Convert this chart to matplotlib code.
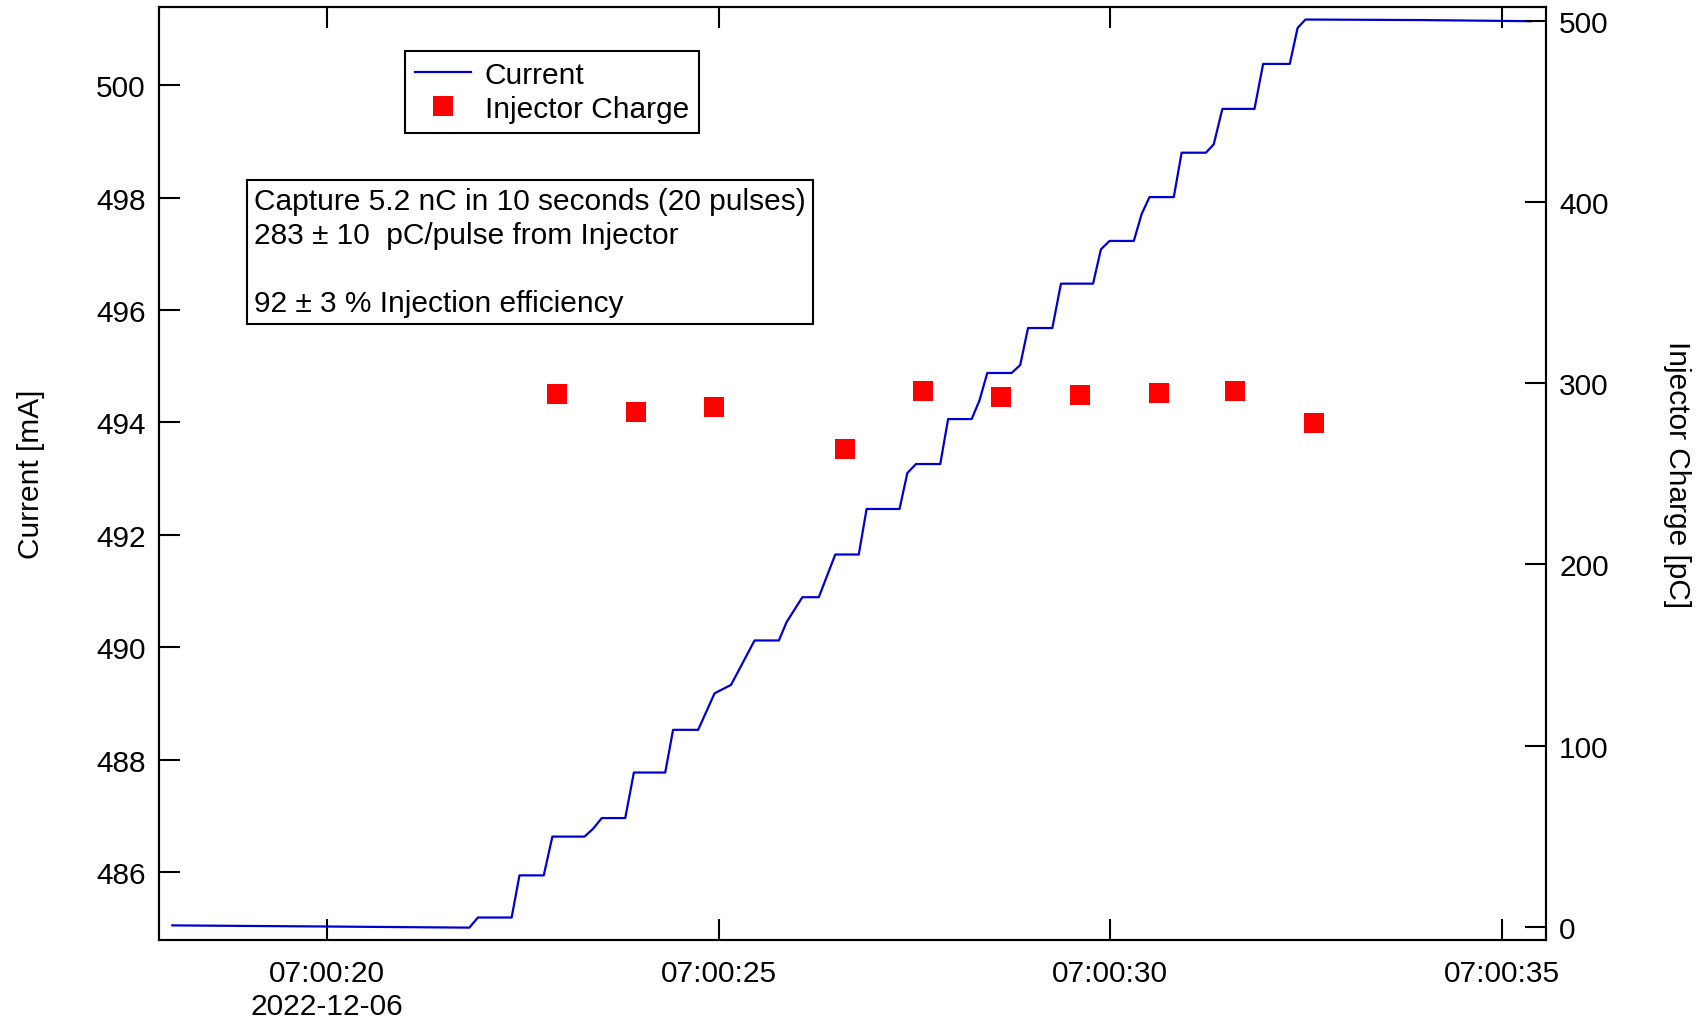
import numpy as np
import matplotlib
matplotlib.use("Agg")
import matplotlib.pyplot as plt
import matplotlib.dates as mdates
from matplotlib.ticker import FuncFormatter, MultipleLocator

plt.rcParams["font.family"] = ["Liberation Sans", "DejaVu Sans"]
plt.rcParams["font.size"] = 21.5

T0 = np.datetime64("2022-12-06T07:00:00")

# stored beam current, time in seconds after 07:00:00
current_t = [18.03, 20.0, 21.82, 21.93, 22.36, 22.46, 22.77, 22.88, 23.29, 23.40,
             23.51, 23.81, 23.92, 24.32, 24.42, 24.74, 24.95, 25.16, 25.46, 25.77,
             25.87, 26.07, 26.28, 26.49, 26.79, 26.89, 27.31, 27.41, 27.52, 27.83,
             27.93, 28.23, 28.33, 28.43, 28.74, 28.85, 28.95, 29.26, 29.37, 29.78,
             29.88, 29.99, 30.30, 30.40, 30.50, 30.81, 30.91, 31.22, 31.32, 31.43,
             31.84, 31.95, 32.29, 32.39, 32.49, 34.0, 35.37]
current_ma = [485.05, 485.03, 485.01, 485.19, 485.19, 485.94, 485.94, 486.63, 486.63, 486.77,
              486.96, 486.96, 487.77, 487.77, 488.53, 488.53, 489.18, 489.33, 490.12, 490.12,
              490.45, 490.89, 490.89, 491.65, 491.65, 492.46, 492.46, 493.10, 493.26, 493.26,
              494.06, 494.06, 494.39, 494.88, 494.88, 495.02, 495.68, 495.68, 496.47, 496.47,
              497.08, 497.23, 497.23, 497.71, 498.01, 498.01, 498.80, 498.80, 498.95, 499.58,
              499.58, 500.38, 500.38, 501.02, 501.17, 501.16, 501.14]

# injector charge per shot
charge_t = [22.94, 23.95, 24.94, 26.61, 27.61, 28.61, 29.61, 30.62, 31.59, 32.60]
charge_pc = [294.1, 284.2, 286.7, 263.5, 295.9, 292.6, 293.7, 294.6, 295.7, 278.0]

x_range = (17.86, 35.56)
current_range = (484.79, 501.40)
charge_range = (-7.2, 507.7)

note_lines = [
    "Capture 5.2 nC in 10 seconds (20 pulses)",
    "283 \u00b1 10  pC/pulse from Injector",
    "",
    "92 \u00b1 3 % Injection efficiency",
]


def to_time(sec):
    return T0 + np.round(np.asarray(sec) * 1000).astype("timedelta64[ms]")


fig = plt.figure(figsize=(16.96, 10.2), dpi=100)
ax = fig.add_axes([0.09375, 0.07745, 0.81781, 0.91510])
ax2 = ax.twinx()

line, = ax.plot(to_time(current_t), current_ma, color="#0000d0", lw=1.6, label="Current")
pts, = ax2.plot(to_time(charge_t), charge_pc, ls="none", marker="s", ms=15,
                mew=0, color="#ff0000", label="Injector Charge")

ax.set_xlim(to_time(x_range[0]), to_time(x_range[1]))
ax.set_ylim(*current_range)
ax2.set_ylim(*charge_range)

ax.xaxis.set_major_locator(mdates.SecondLocator(bysecond=range(0, 60, 5)))


def fmt_time(x, pos):
    d = mdates.num2date(x)
    s = d.strftime("%H:%M:%S")
    # date goes under the first visible tick only
    if x - ax.get_xlim()[0] < 5 / 86400:
        s += "\n" + d.strftime("%Y-%m-%d")
    return s


ax.xaxis.set_major_formatter(FuncFormatter(fmt_time))
ax.yaxis.set_major_locator(MultipleLocator(2))
ax2.yaxis.set_major_locator(MultipleLocator(100))

ax.tick_params(axis="x", direction="in", top=True, length=15, width=1.5, pad=13.5)
ax.tick_params(axis="y", direction="in", length=15, width=1.5, pad=9.5)
ax2.tick_params(axis="y", direction="in", length=15, width=1.5, pad=9.5)
for a in (ax, ax2):
    for sp in a.spines.values():
        sp.set_linewidth(1.5)

ax.set_ylabel("Current [mA]", va="center")
ax.yaxis.set_label_coords(-0.0924, 0.5)
ax2.set_ylabel("Injector Charge [pC]", rotation=270, va="center")
ax2.yaxis.set_label_coords(1.0948, 0.5)

leg = fig.legend([line, pts], ["Current", "Injector Charge"], loc="upper left",
                 bbox_to_anchor=(405 / 1696, 1 - 52 / 1020), borderaxespad=0,
                 fancybox=False, framealpha=1, edgecolor="black",
                 borderpad=0.33, labelspacing=0.2, handlelength=1.87,
                 handletextpad=0.47, numpoints=1)
leg.get_frame().set_linewidth(1.5)

fig.text(254 / 1696, 1 - 188 / 1020, "\n".join(note_lines), ha="left", va="top",
         linespacing=1.27,
         bbox=dict(boxstyle="square,pad=0.25", fc="white", ec="black", lw=1.5))

fig.canvas.draw()
for tk in ax.xaxis.get_major_ticks():
    tk.label1.set_linespacing(1.25)

fig.savefig("out.png", dpi=100)
